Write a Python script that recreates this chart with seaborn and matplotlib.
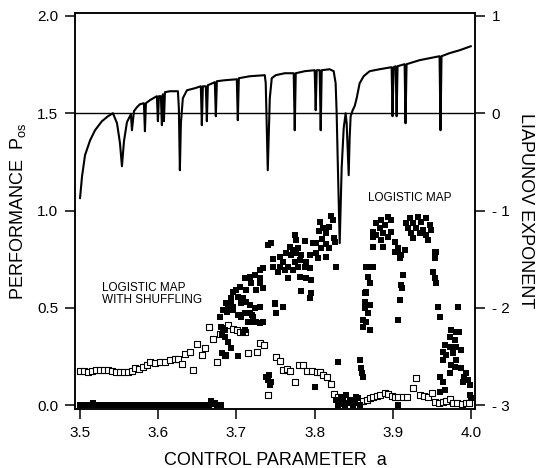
import numpy as np
import pandas as pd
import matplotlib
matplotlib.use("Agg")
import matplotlib.pyplot as plt
import seaborn as sns

# Liapunov exponent of the logistic map (right axis)
lyap_a = [3.500, 3.5026, 3.5064, 3.5128, 3.5192, 3.5280, 3.5358, 3.5421, 3.5473, 3.5511, 3.5536,
          3.5562, 3.5600, 3.5651, 3.5664, 3.5690, 3.5728, 3.5766, 3.5817, 3.5830, 3.5843,
          3.5894, 3.5958, 3.5983, 3.5996, 3.6009, 3.6034, 3.6047, 3.6060, 3.6073, 3.6086,
          3.6149, 3.6252, 3.6264, 3.6277, 3.6290, 3.6315, 3.6367, 3.6469, 3.6545, 3.6558,
          3.6571, 3.6609, 3.6622, 3.6635, 3.6724, 3.6737, 3.6750, 3.6852, 3.7005, 3.7018,
          3.7031, 3.7171, 3.7363, 3.7375, 3.7401, 3.7427, 3.7452, 3.7503, 3.7618, 3.7733,
          3.7746, 3.7759, 3.7874, 3.8001, 3.8014, 3.8027, 3.8065, 3.8078, 3.8091, 3.8193,
          3.8244, 3.8269, 3.8282, 3.8295, 3.8321, 3.8346, 3.8372, 3.8397, 3.8410, 3.8436,
          3.8448, 3.8461, 3.8487, 3.8512, 3.8538, 3.8576, 3.8627, 3.8704, 3.8831, 3.8985,
          3.8997, 3.9010, 3.9036, 3.9049, 3.9061, 3.9151, 3.9163, 3.9176, 3.9342, 3.9598,
          3.9610, 3.9623, 3.9725, 3.9853, 4.000]
lyap_val = [-0.874, -0.647, -0.431, -0.280, -0.175, -0.082, -0.031, 0.0, -0.103, -0.308, -0.545,
            -0.288, -0.092, -0.010, -0.175, 0.021, 0.062, 0.092, 0.103, -0.185, 0.103,
            0.134, 0.164, 0.175, -0.082, 0.175, 0.175, -0.123, 0.195, -0.082, 0.216,
            0.226, 0.226, 0.051, -0.586, -0.103, 0.154, 0.236, 0.257, 0.277, -0.123,
            0.277, 0.277, -0.082, 0.288, 0.319, -0.031, 0.329, 0.339, 0.349, -0.072,
            0.360, 0.380, 0.391, 0.308, -0.586, 0.154, 0.360, 0.391, 0.411, 0.411,
            -0.175, 0.411, 0.432, 0.442, 0.031, 0.442, 0.442, -0.175, 0.442, 0.452,
            0.432, 0.308, 0.0, -0.462, -1.336, -0.565, -0.154, 0.0, -0.103, -0.637,
            -0.257, -0.031, 0.031, 0.072, 0.154, 0.308, 0.380, 0.432, 0.452, 0.473,
            -0.031, 0.473, 0.483, -0.031, 0.483, 0.504, -0.103, 0.504, 0.545, 0.586,
            -0.175, 0.586, 0.617, 0.647, 0.689]

# logistic map performance (filled squares)
zero_a = [3.500, 3.505, 3.510, 3.515, 3.517, 3.520, 3.525, 3.530, 3.535, 3.540, 3.545,
          3.550, 3.555, 3.560, 3.565, 3.570, 3.575, 3.580, 3.585, 3.590, 3.595,
          3.600, 3.605, 3.610, 3.615, 3.620, 3.625, 3.630, 3.635, 3.640, 3.645,
          3.650, 3.655, 3.660, 3.665, 3.668, 3.670, 3.672, 3.675, 3.680]
zero_p = [0, 0, 0, 0, 0.012, 0, 0, 0, 0, 0, 0,
          0, 0, 0, 0, 0, 0, 0, 0, 0, 0,
          0, 0, 0, 0, 0, 0, 0, 0, 0, 0,
          0, 0, 0, 0, 0.02, 0.008, 0.01, 0, 0]

cloud_a = [3.8214, 3.8235, 3.8073, 3.8184, 3.8107, 3.8056, 3.8150, 3.8248, 3.8099, 3.8022,
           3.8150, 3.7980, 3.8256, 3.8086, 3.8184, 3.8014, 3.7946, 3.8044, 3.8141, 3.8269,
           3.7746, 3.7767, 3.7873, 3.7682, 3.7724, 3.7788, 3.7639, 3.7703, 3.7767, 3.7831,
           3.7554, 3.7469, 3.7597, 3.7746, 3.7810, 3.7895, 3.7873, 3.7937, 3.7554, 3.7660,
           3.7788, 3.7469, 3.7533, 3.7618, 3.7724, 3.7660, 3.7810, 3.7895, 3.7958, 3.7831,
           3.7958, 3.7937, 3.7405, 3.7448,
           3.7341, 3.7299, 3.7235, 3.7171, 3.7299, 3.7107, 3.7192, 3.7299, 3.7043, 3.7001,
           3.6958, 3.7128, 3.7256, 3.7341, 3.7022, 3.7086, 3.6937, 3.6873, 3.7128, 3.7065,
           3.7171, 3.6958, 3.6894, 3.6830, 3.7235, 3.7299, 3.7171, 3.7022, 3.7065, 3.6788,
           3.7214, 3.7150, 3.7256, 3.7341, 3.7299, 3.6809, 3.6852, 3.7490, 3.7597, 3.7512,
           3.6874, 3.6959, 3.6937, 3.7044, 3.7108, 3.7193, 3.7172, 3.7235, 3.7342, 3.7491,
           3.6831, 3.6810, 3.6852, 3.6895, 3.6937, 3.6810, 3.6852, 3.7023, 3.7108, 3.7086,
           3.7384, 3.7406, 3.7427, 3.7418, 3.7448, 3.8002]
cloud_p = [0.972, 0.952, 0.943, 0.917, 0.909, 0.897, 0.883, 0.857, 0.852, 0.831,
           0.828, 0.835, 0.840, 0.806, 0.806, 0.780, 0.771, 0.754, 0.759, 0.708,
           0.874, 0.849, 0.845, 0.814, 0.797, 0.806, 0.780, 0.771, 0.780, 0.771,
           0.763, 0.749, 0.737, 0.737, 0.746, 0.737, 0.708, 0.703, 0.711, 0.711,
           0.711, 0.711, 0.686, 0.694, 0.694, 0.651, 0.657, 0.651, 0.643, 0.588,
           0.578, 0.548, 0.823, 0.831,
           0.703, 0.694, 0.669, 0.660, 0.651, 0.651, 0.626, 0.626, 0.609, 0.591,
           0.583, 0.591, 0.591, 0.600, 0.557, 0.548, 0.548, 0.523, 0.531, 0.523,
           0.514, 0.506, 0.497, 0.489, 0.497, 0.506, 0.471, 0.463, 0.454, 0.454,
           0.454, 0.428, 0.428, 0.428, 0.420, 0.403, 0.386, 0.523, 0.506, 0.471,
           0.480, 0.489, 0.532, 0.463, 0.472, 0.463, 0.429, 0.429, 0.429, 0.520,
           0.394, 0.360, 0.352, 0.326, 0.291, 0.269, 0.257, 0.252, 0.386, 0.369,
           0.146, 0.129, 0.103, 0.154, 0.120, 0.094]

window_a = [3.8278, 3.8342, 3.8406, 3.8449, 3.8513, 3.8555, 3.8300, 3.8385, 3.8491, 3.8576,
            3.8427, 3.8321, 3.8364, 3.8534, 3.8300, 3.8460, 3.8350]
window_p = [0.026, 0.043, 0.051, 0.026, 0.009, 0.034, 0.000, 0.000, 0.000, 0.000,
            0.009, 0.017, 0.029, 0.043, 0.223, 0.015, 0.005]

humps_a = [3.8576, 3.8598, 3.8610, 3.8619, 3.8662, 3.8725, 3.8704, 3.8662, 3.8640, 3.8704,
           3.8640, 3.8683, 3.8662, 3.8619, 3.8704, 3.8619, 3.8682, 3.8661, 3.8640,
           3.9066, 3.9087, 3.9130, 3.9108, 3.9122, 3.9087, 3.9066, 3.9066,
           3.9534, 3.9513, 3.9534, 3.9555, 3.9577, 3.9598, 3.9832, 3.9534,
           3.8789, 3.8853, 3.8938, 3.8981, 3.8895, 3.8832, 3.8746, 3.8789, 3.8874, 3.8746,
           3.8853, 3.8938, 3.8746, 3.8874, 3.8981, 3.9023, 3.9066, 3.9151, 3.9023, 3.9108,
           3.9087, 3.8746,
           3.9215, 3.9321, 3.9428, 3.9257, 3.9364, 3.9470, 3.9193, 3.9300, 3.9385, 3.9491,
           3.9236, 3.9342, 3.9428, 3.9257, 3.9449, 3.9172, 3.9555]
humps_p = [0.231, 0.189, 0.163, 0.146, 0.712, 0.712, 0.626, 0.575, 0.575, 0.514,
           0.497, 0.472, 0.429, 0.403, 0.386, 0.437, 0.660, 0.583, 0.532,
           0.789, 0.772, 0.669, 0.617, 0.600, 0.540, 0.437, 0.000,
           0.789, 0.686, 0.652, 0.626, 0.506, 0.451, 0.506, 0.754,
           0.934, 0.952, 0.969, 0.952, 0.926, 0.909, 0.892, 0.874, 0.883, 0.866,
           0.849, 0.866, 0.814, 0.814, 0.892, 0.840, 0.806, 0.797, 0.789, 0.771,
           0.754, 0.708,
           0.960, 0.969, 0.960, 0.934, 0.943, 0.926, 0.909, 0.909, 0.900, 0.900,
           0.883, 0.883, 0.874, 0.857, 0.849, 0.934, 0.789]

tail_a = [3.9747, 3.9811, 3.9853, 3.9726, 3.9790, 3.9662, 3.9726, 3.9811, 3.9875, 3.9640,
          3.9768, 3.9683, 3.9640, 3.9811, 3.9747, 3.9790, 3.9875, 3.9938, 3.9917, 3.9960,
          3.9598, 3.9640, 3.9896, 3.9981, 3.9662, 3.9598, 3.9981, 4.0002, 3.9726]
tail_p = [0.386, 0.377, 0.377, 0.352, 0.334, 0.309, 0.300, 0.300, 0.283, 0.274,
          0.266, 0.257, 0.232, 0.232, 0.206, 0.197, 0.189, 0.163, 0.146, 0.129,
          0.146, 0.120, 0.120, 0.103, 0.077, 0.069, 0.051, 0.034, 0.163]

# logistic map with shuffling (open squares)
shuf_a = [3.5000, 3.5051, 3.5102, 3.5153, 3.5204, 3.5255, 3.5306, 3.5358, 3.5409, 3.5460,
          3.5511, 3.5562, 3.5613, 3.5664, 3.5702, 3.5753, 3.5805, 3.5856, 3.5894, 3.5958,
          3.6022, 3.6086, 3.6149, 3.6213, 3.6252, 3.6303, 3.6341, 3.6405, 3.6443, 3.6494,
          3.6558, 3.6596, 3.6647, 3.6698, 3.6750, 3.6788, 3.6852, 3.6890, 3.6954, 3.7005,
          3.7043, 3.7107, 3.7145, 3.7260, 3.7299, 3.7350, 3.7401, 3.7503, 3.7554, 3.7592,
          3.7643, 3.7682, 3.7746, 3.7797, 3.7848, 3.7899, 3.7963, 3.8027, 3.8065, 3.8103,
          3.8154, 3.8205, 3.8244, 3.8295, 3.8614, 3.8665, 3.8703, 3.8742, 3.8793, 3.8831,
          3.8895, 3.8933, 3.8984, 3.9023, 3.9061, 3.9125, 3.9176, 3.9252, 3.9303, 3.9342,
          3.9393, 3.9444, 3.9495, 3.9546, 3.9597, 3.9636, 3.9686, 3.9737, 3.9776, 3.9827,
          3.9891, 3.9942, 3.9980]
shuf_p = [0.175, 0.175, 0.170, 0.175, 0.180, 0.180, 0.180, 0.180, 0.175, 0.170,
          0.170, 0.170, 0.170, 0.175, 0.190, 0.185, 0.195, 0.206, 0.221, 0.216,
          0.221, 0.221, 0.231, 0.237, 0.237, 0.211, 0.262, 0.273, 0.180, 0.314,
          0.257, 0.293, 0.401, 0.340, 0.221, 0.365, 0.257, 0.412, 0.391, 0.386,
          0.376, 0.376, 0.267, 0.273, 0.319, 0.309, 0.051, 0.247, 0.226, 0.180,
          0.185, 0.175, 0.118, 0.206, 0.206, 0.175, 0.175, 0.170, 0.170, 0.154,
          0.144, 0.108, 0.057, 0.041, 0.021, 0.026, 0.036, 0.041, 0.046, 0.051,
          0.062, 0.057, 0.046, 0.041, 0.041, 0.041, 0.041, 0.087, 0.139, 0.051,
          0.046, 0.041, 0.062, 0.015, 0.010, 0.015, 0.021, 0.031, 0.010, 0.010,
          0.005, 0.010, 0.010]

filled = pd.DataFrame({"a": zero_a + cloud_a + window_a + humps_a + tail_a,
                       "P": zero_p + cloud_p + window_p + humps_p + tail_p})
shuffled = pd.DataFrame({"a": shuf_a, "P": shuf_p})
lyap = pd.DataFrame({"a": lyap_a, "L": lyap_val})

sns.set_theme(style="ticks")
plt.rcParams["font.family"] = ["Liberation Sans", "DejaVu Sans"]
plt.rcParams["mathtext.fontset"] = "custom"
plt.rcParams["mathtext.rm"] = "Liberation Sans"
plt.rcParams["axes.linewidth"] = 1.1
plt.rcParams["text.color"] = "black"
plt.rcParams["axes.labelcolor"] = "black"
plt.rcParams["xtick.color"] = "black"
plt.rcParams["ytick.color"] = "black"

fig = plt.figure(figsize=(5.37, 4.68), dpi=100)
ax = fig.add_axes([0.1397, 0.1261, 0.7448, 0.8461])

sns.scatterplot(data=shuffled, x="a", y="P", marker="s", s=16, color="white",
                edgecolor="black", linewidth=0.8, ax=ax, zorder=2)
sns.scatterplot(data=filled, x="a", y="P", marker="s", s=25, color="black",
                edgecolor="black", linewidth=0, ax=ax, zorder=3)

ax.set_xlim(3.4936, 4.0051)
ax.set_ylim(-0.02, 2.015)
ax.set_xticks([3.5, 3.6, 3.7, 3.8, 3.9, 4.0])
ax.set_xticklabels(["3.5", "3.6", "3.7", "3.8", "3.9", "4.0"])
ax.set_yticks([0.0, 0.5, 1.0, 1.5, 2.0])
ax.set_yticklabels(["0.0", "0.5", "1.0", "1.5", "2.0"])
ax.tick_params(axis="both", direction="out", length=7, width=1.1, labelsize=11,
               pad=5, colors="black")
ax.set_xlabel("CONTROL PARAMETER  a", fontsize=13, labelpad=9, color="black")
ax.set_ylabel("PERFORMANCE  $\\mathrm{P_{os}}$", fontsize=13, labelpad=7, color="black")

ax.text(3.528, 0.57, "LOGISTIC MAP\nWITH SHUFFLING", fontsize=8.5, va="center",
        ha="left", linespacing=1.0, color="black")
ax.text(3.868, 1.065, "LOGISTIC MAP", fontsize=8.5, va="center", ha="left", color="black")

ax2 = ax.twinx()
sns.lineplot(data=lyap, x="a", y="L", color="black", linewidth=1.5, estimator=None,
             sort=False, ax=ax2)
ax2.axhline(0, color="black", linewidth=1.0)
ax2.set_ylim(-3.04, 1.03)
ax2.set_xlim(3.4936, 4.0051)
ax2.set_yticks([-3, -2, -1, 0, 1])
ax2.set_yticklabels(["- 3", "- 2", "- 1", "0", "1"])
ax2.tick_params(axis="y", direction="out", length=7, width=1.1, labelsize=11,
                pad=5, colors="black")
ax2.set_ylabel("LIAPUNOV EXPONENT", fontsize=13, rotation=270, labelpad=18, color="black")
ax2.set_xlabel("")

for a_ in (ax, ax2):
    for sp in a_.spines.values():
        sp.set_color("black")
        sp.set_linewidth(1.1)

fig.savefig("out.png", dpi=100)
